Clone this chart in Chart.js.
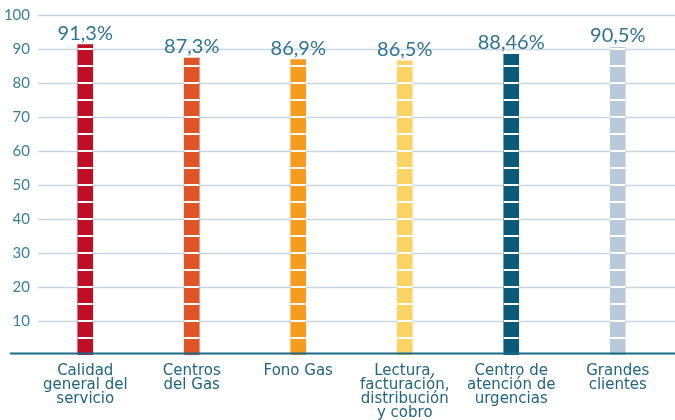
<!DOCTYPE html>
<html lang="es">
<head>
  <meta charset="UTF-8" />
  <title>Calidad de servicio</title>
  <script src="https://cdn.jsdelivr.net/npm/chart.js"></script>
  <style>
    body { margin: 0; padding: 0; background: #ffffff; }
    .wrap { width: 675px; height: 420px; position: relative; }
  </style>
</head>
<body>
  <div class="wrap"><canvas id="chart"></canvas></div>
  <script>
    const categories = [
      ["Calidad", "general del", "servicio"],
      ["Centros", "del Gas"],
      ["Fono Gas"],
      ["Lectura,", "facturación,", "distribución", "y cobro"],
      ["Centro de", "atención de", "urgencias"],
      ["Grandes", "clientes"]
    ];
    const values = [91.3, 87.3, 86.9, 86.5, 88.46, 90.5];
    const valueLabels = ["91,3%", "87,3%", "86,9%", "86,5%", "88,46%", "90,5%"];
    const barColors = ["#be0f25", "#df5527", "#f59b1e", "#fdd365", "#0b5a78", "#b8cad9"];

    const teal = "#2f7490";

    // grid lines start a bit right of the axis labels, base line runs further left
    const decor = {
      id: "decor",
      beforeDatasetsDraw(chart) {
        const { ctx, chartArea, scales: { y } } = chart;
        ctx.save();
        ctx.strokeStyle = "#c8d6e3";
        ctx.lineWidth = 1.5;
        for (let v = 10; v <= 100; v += 10) {
          const py = Math.round(y.getPixelForValue(v)) + 0.5;
          ctx.beginPath();
          ctx.moveTo(chartArea.left + 6, py);
          ctx.lineTo(chart.width, py);
          ctx.stroke();
        }
        ctx.restore();
      },
      afterDatasetsDraw(chart) {
        const { ctx, scales: { y } } = chart;
        const meta = chart.getDatasetMeta(0);
        ctx.save();
        // white stripes every 5 units
        ctx.fillStyle = "#ffffff";
        meta.data.forEach((bar, i) => {
          const half = bar.width / 2;
          for (let v = 5; v < values[i]; v += 5) {
            const py = y.getPixelForValue(v);
            ctx.fillRect(bar.x - half, py - 1, bar.width, 2);
          }
        });
        // base line
        ctx.strokeStyle = "#1d6a88";
        ctx.lineWidth = 2;
        const by = y.getPixelForValue(0) - 1.5;
        ctx.beginPath();
        ctx.moveTo(10, by);
        ctx.lineTo(chart.width, by);
        ctx.stroke();
        // value labels
        ctx.fillStyle = teal;
        ctx.font = "20px Lato";
        ctx.textAlign = "center";
        ctx.textBaseline = "alphabetic";
        meta.data.forEach((bar, i) => {
          ctx.fillText(valueLabels[i], bar.x, bar.y - 5);
        });
        ctx.restore();
      }
    };

    new Chart(document.getElementById("chart"), {
      type: "bar",
      data: {
        labels: categories,
        datasets: [{
          data: values,
          backgroundColor: barColors,
          barThickness: 15
        }]
      },
      options: {
        responsive: true,
        maintainAspectRatio: false,
        animation: false,
        layout: { padding: { top: 15, right: 4, left: 0, bottom: 0 } },
        plugins: { legend: { display: false }, tooltip: { enabled: false } },
        scales: {
          x: {
            grid: { display: false, drawTicks: false },
            border: { display: false },
            ticks: {
              autoSkip: false,
              maxRotation: 0,
              color: "#1f6582",
              padding: 9,
              font: { family: "DejaVu Sans", size: 15, lineHeight: 0.93 }
            },
            afterFit(scale) { scale.height = 65; }
          },
          y: {
            min: 0,
            max: 100,
            grid: { display: false, drawTicks: false },
            border: { display: false },
            ticks: {
              stepSize: 10,
              padding: 2,
              color: "#3b7f9a",
              font: { family: "Lato", size: 15 },
              callback: v => (v === 0 ? "" : v)
            },
            afterFit(scale) { scale.width = 32; }
          }
        }
      },
      plugins: [decor]
    });
  </script>
</body>
</html>
